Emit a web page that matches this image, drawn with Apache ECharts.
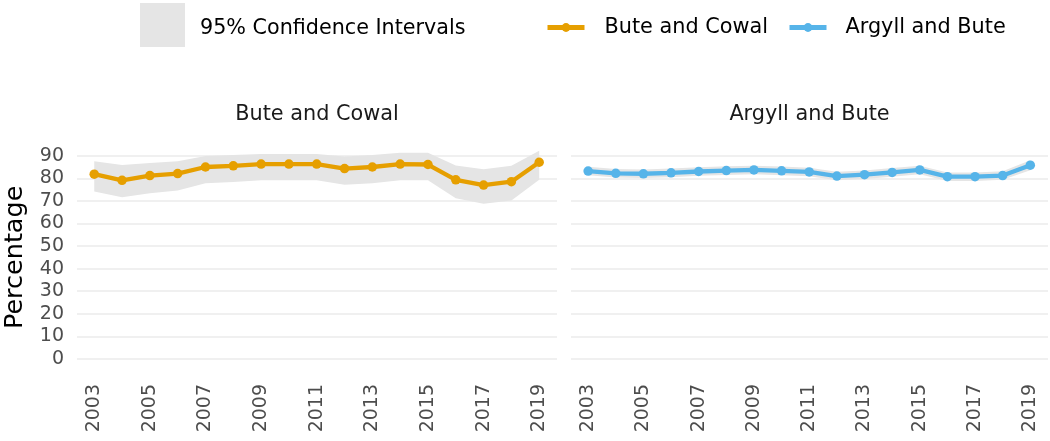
<!DOCTYPE html>
<html>
<head>
<meta charset="utf-8">
<style>
html,body{margin:0;padding:0;background:#ffffff;}
#chart{width:1050px;height:441px;}
</style>
<script src="https://cdn.jsdelivr.net/npm/echarts@6/dist/echarts.min.js"></script>
</head>
<body>
<div id="chart"></div>
<script>
// ---- data ----
const years = [2003,2004,2005,2006,2007,2008,2009,2010,2011,2012,2013,2014,2015,2016,2017,2018,2019];
const xTickLabels = [2003,2005,2007,2009,2011,2013,2015,2017,2019];
const yTickMin = 0;
const yTickMax = 90;
const yTickStep = 10;

const panelTitles = ['Bute and Cowal', 'Argyll and Bute'];
const ciLabel = '95% Confidence Intervals';

const buteCowal      = [81.8,79.1,81.2,82.1,85.0,85.5,86.3,86.3,86.3,84.3,85.0,86.3,86.1,79.3,77.0,78.5,87.1];
const buteCowalLower = [74.1,71.6,73.4,74.6,77.8,78.4,79.1,79.1,79.1,77.1,77.8,79.1,79.1,71.2,68.7,70.2,79.3];
const buteCowalUpper = [87.5,85.9,86.8,87.5,89.9,90.3,90.7,90.7,90.7,89.6,90.3,91.3,91.3,85.7,84.0,85.5,92.2];

const argyll      = [83.2,82.2,82.0,82.4,83.0,83.4,83.7,83.3,82.8,81.0,81.6,82.6,83.7,80.7,80.7,81.2,85.8];
const argyllLower = [81.3,80.3,80.1,80.5,81.1,81.5,81.8,81.4,80.9,79.1,79.7,80.7,81.8,78.8,78.8,79.3,83.6];
const argyllUpper = [85.1,84.1,83.9,84.3,84.9,85.3,85.6,85.2,84.7,82.9,83.5,84.5,85.6,82.6,82.6,83.1,88.0];

// ---- styling ----
const FONT = 'DejaVu Sans';
const ORANGE = '#E69F00';
const BLUE = '#56B4E9';
const BAND = '#e5e5e5';
const GRIDLINE = '#ebebeb';
const AXIS_TEXT = '#4d4d4d';

function bandSeries(gridIdx, lower, upper) {
  return {
    type: 'custom',
    name: ciLabel,
    xAxisIndex: gridIdx,
    yAxisIndex: gridIdx,
    clip: false,
    silent: true,
    z: 1,
    itemStyle: { color: BAND },
    data: years.map((y, i) => [y, lower[i], upper[i]]),
    encode: { x: 0, y: [1, 2] },
    renderItem: function (params, api) {
      if (params.dataIndex !== 0) return null;
      const top = years.map((y, i) => api.coord([y, upper[i]]));
      const bottom = years.map((y, i) => api.coord([y, lower[i]])).reverse();
      return {
        type: 'polygon',
        shape: { points: top.concat(bottom) },
        style: { fill: BAND }
      };
    }
  };
}

function lineSeries(name, gridIdx, values, color) {
  return {
    type: 'line',
    name: name,
    xAxisIndex: gridIdx,
    yAxisIndex: gridIdx,
    clip: false,
    z: 3,
    symbol: 'circle',
    symbolSize: 9.5,
    showSymbol: true,
    lineStyle: { width: 4.3, color: color },
    itemStyle: { color: color },
    emphasis: { disabled: true },
    data: years.map((y, i) => [y, values[i]])
  };
}

function xAxis(gridIdx) {
  return {
    type: 'value',
    gridIndex: gridIdx,
    min: 2002.38,
    max: 2019.64,
    axisLine: { show: false },
    axisTick: { show: false },
    splitLine: { show: false },
    axisLabel: {
      customValues: xTickLabels,
      rotate: 90,
      margin: 25,
      fontSize: 19,
      fontFamily: FONT,
      color: AXIS_TEXT,
      formatter: v => String(v)
    }
  };
}

function yAxis(gridIdx, showLabels) {
  const ax = {
    type: 'value',
    gridIndex: gridIdx,
    min: yTickMin,
    max: yTickMax,
    interval: yTickStep,
    axisLine: { show: false },
    axisTick: { show: false },
    splitLine: { show: true, lineStyle: { color: GRIDLINE, width: 1.5 } },
    axisLabel: {
      show: showLabels,
      margin: 13,
      fontSize: 19,
      fontFamily: FONT,
      color: AXIS_TEXT
    }
  };
  if (showLabels) {
    ax.name = 'Percentage';
    ax.nameLocation = 'middle';
    ax.nameRotate = 90;
    ax.nameGap = 49;
    ax.nameTextStyle = { fontSize: 25.5, fontFamily: FONT, color: '#000000' };
  }
  return ax;
}

const chart = echarts.init(document.getElementById('chart'), null, { renderer: 'canvas' });

const option = {
  animation: false,
  backgroundColor: '#ffffff',
  textStyle: { fontFamily: FONT },
  grid: [
    { left: 77, top: 155.7, width: 480, height: 203.3 },
    { left: 571, top: 155.7, width: 477, height: 203.3 }
  ],
  xAxis: [xAxis(0), xAxis(1)],
  yAxis: [yAxis(0, true), yAxis(1, false)],
  legend: [
    {
      data: [{ name: ciLabel, icon: 'rect', itemStyle: { color: BAND } }],
      left: 140, top: 3, padding: 0,
      itemWidth: 45, itemHeight: 44,
      selectedMode: false,
      formatter: '{t|{name}}',
      textStyle: {
        rich: { t: { fontSize: 20.7, fontFamily: FONT, color: '#000000', padding: [7, 0, 0, 10] } }
      }
    },
    {
      data: [panelTitles[0]],
      left: 545, top: 17, padding: 0,
      itemWidth: 37, itemHeight: 11,
      selectedMode: false,
      lineStyle: { width: 5 },
      formatter: '{t|{name}}',
      textStyle: {
        rich: { t: { fontSize: 20.8, fontFamily: FONT, color: '#000000', padding: [0, 0, 0, 15] } }
      }
    },
    {
      data: [panelTitles[1]],
      left: 787, top: 17, padding: 0,
      itemWidth: 37, itemHeight: 11,
      selectedMode: false,
      lineStyle: { width: 5 },
      formatter: '{t|{name}}',
      textStyle: {
        rich: { t: { fontSize: 20.8, fontFamily: FONT, color: '#000000', padding: [0, 0, 0, 14] } }
      }
    }
  ],
  graphic: [
    { type: 'text', x: 317, y: 115, style: { text: panelTitles[0], align: 'center', verticalAlign: 'middle', fontSize: 20.8, fontFamily: FONT, fill: '#1a1a1a' } },
    { type: 'text', x: 809.5, y: 115, style: { text: panelTitles[1], align: 'center', verticalAlign: 'middle', fontSize: 20.8, fontFamily: FONT, fill: '#1a1a1a' } }
  ],
  series: [
    bandSeries(0, buteCowalLower, buteCowalUpper),
    bandSeries(1, argyllLower, argyllUpper),
    lineSeries(panelTitles[0], 0, buteCowal, ORANGE),
    lineSeries(panelTitles[1], 1, argyll, BLUE)
  ]
};

chart.setOption(option);
</script>
</body>
</html>
